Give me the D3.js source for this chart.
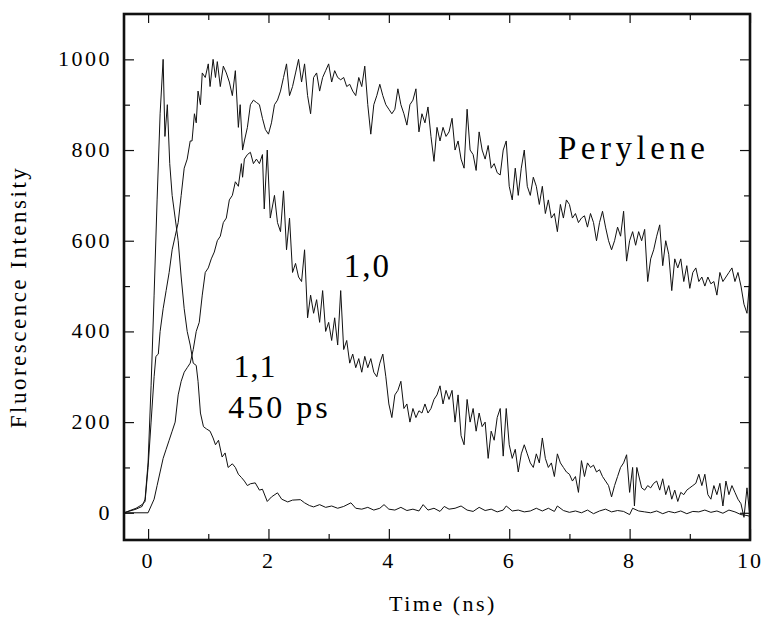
<!DOCTYPE html>
<html>
<head>
<meta charset="utf-8">
<script src="https://cdn.jsdelivr.net/npm/d3@7"></script>
</head>
<body style="margin:0">
<script>
var serif = "'Liberation Serif'";

// data: [time (ns), intensity]
var fastDecay = [ // "1,1", 450 ps
  [-0.4,0],[-0.3,4],[-0.2,8],[-0.1,14],[-0.05,30],[0,110],[0.05,280],[0.1,480],[0.15,690],[0.2,880],
  [0.25,1000],[0.28,830],[0.32,900],[0.36,770],[0.4,700],[0.45,650],[0.5,600],[0.55,520],[0.6,450],
  [0.65,400],[0.7,370],[0.75,330],[0.8,325],[0.83,290],[0.87,220],[0.92,190],[0.97,185],[1.03,180],
  [1.08,165],[1.12,150],[1.17,160],[1.23,123],[1.28,132],[1.33,100],[1.4,108],[1.45,100],[1.5,85],
  [1.55,78],[1.6,70],[1.65,60],[1.7,64],[1.78,66],[1.85,50],[1.9,52],[1.98,25],[2.05,35],[2.15,44],
  [2.22,30],[2.32,24],[2.4,28],[2.53,29],[2.6,22],[2.68,16],[2.75,13],[2.85,18],[2.95,12],[3.05,15],
  [3.15,10],[3.25,14],[3.37,22],[3.45,10],[3.55,8],[3.65,12],[3.75,6],[3.85,10],[3.92,18],[4.0,8],
  [4.1,6],[4.2,12],[4.3,5],[4.4,8],[4.5,4],[4.57,18],[4.65,6],[4.75,10],[4.85,3],[4.92,14],[5.0,8],
  [5.1,10],[5.2,15],[5.3,6],[5.4,3],[5.5,12],[5.6,5],[5.7,8],[5.8,2],[5.9,6],[5.95,15],[6.05,4],
  [6.15,6],[6.25,2],[6.35,4],[6.45,10],[6.55,4],[6.65,10],[6.75,3],[6.8,15],[6.9,5],[7.0,1],[7.1,4],
  [7.2,0],[7.3,6],[7.4,-2],[7.5,4],[7.6,8],[7.7,2],[7.8,5],[7.9,3],[8.0,-4],[8.05,10],[8.15,4],
  [8.25,2],[8.35,0],[8.45,4],[8.55,-2],[8.65,3],[8.75,0],[8.85,4],[8.95,-2],[9.05,3],[9.15,2],
  [9.25,6],[9.35,1],[9.45,4],[9.55,-1],[9.65,6],[9.75,2],[9.85,-4],[9.95,-6],[10,-8]
];

var slowDecay = [ // "1,0"
  [-0.4,0],[-0.2,0],[0,0],[0.05,15],[0.1,30],[0.15,60],[0.2,90],[0.25,120],[0.3,140],[0.35,160],
  [0.4,180],[0.45,200],[0.5,260],[0.55,290],[0.6,310],[0.65,320],[0.7,330],[0.75,360],[0.8,400],
  [0.85,420],[0.9,480],[0.95,530],[1.0,540],[1.05,560],[1.1,575],[1.15,600],[1.2,610],[1.25,640],
  [1.3,650],[1.35,690],[1.4,700],[1.45,730],[1.5,720],[1.55,770],[1.57,740],[1.6,780],[1.65,790],
  [1.7,795],[1.75,770],[1.8,780],[1.85,770],[1.9,790],[1.93,670],[1.98,800],[2.03,650],[2.1,700],
  [2.15,640],[2.2,620],[2.25,710],[2.3,580],[2.35,650],[2.4,530],[2.45,550],[2.5,520],[2.55,510],
  [2.6,580],[2.65,430],[2.7,480],[2.75,440],[2.8,470],[2.85,420],[2.9,490],[2.95,400],[3.0,420],
  [3.05,380],[3.1,430],[3.15,370],[3.2,490],[3.25,360],[3.3,380],[3.35,330],[3.4,350],[3.45,320],
  [3.5,340],[3.55,310],[3.6,345],[3.65,320],[3.7,340],[3.75,310],[3.8,300],[3.85,330],[3.9,350],
  [3.95,300],[4.0,240],[4.05,210],[4.1,260],[4.15,270],[4.2,290],[4.25,230],[4.3,240],[4.35,200],
  [4.4,230],[4.45,210],[4.5,225],[4.55,220],[4.6,240],[4.65,220],[4.7,230],[4.75,250],[4.8,260],
  [4.85,280],[4.9,240],[4.95,270],[5.0,250],[5.05,270],[5.1,200],[5.15,260],[5.2,170],[5.25,150],
  [5.3,250],[5.35,200],[5.4,230],[5.45,180],[5.5,220],[5.55,190],[5.6,200],[5.65,120],[5.7,180],
  [5.75,160],[5.8,210],[5.85,230],[5.9,125],[5.95,230],[6.0,150],[6.05,120],[6.1,140],[6.15,90],
  [6.2,130],[6.25,150],[6.3,130],[6.35,110],[6.4,100],[6.45,130],[6.5,110],[6.55,165],[6.6,120],
  [6.65,100],[6.7,110],[6.75,80],[6.8,130],[6.85,110],[6.9,100],[6.95,90],[7.0,85],[7.05,70],
  [7.1,80],[7.15,45],[7.2,115],[7.25,80],[7.3,110],[7.35,100],[7.4,105],[7.45,90],[7.5,95],
  [7.55,80],[7.6,70],[7.65,60],[7.7,35],[7.75,60],[7.8,80],[7.85,100],[7.9,110],[7.95,128],[8.0,45],
  [8.05,100],[8.08,15],[8.12,100],[8.2,55],[8.25,50],[8.3,60],[8.35,55],[8.4,65],[8.45,70],[8.5,50],
  [8.55,75],[8.6,40],[8.65,60],[8.7,30],[8.75,50],[8.8,25],[8.85,45],[8.9,40],[8.95,50],[9.0,55],
  [9.05,60],[9.1,65],[9.15,85],[9.2,60],[9.25,85],[9.3,40],[9.35,30],[9.4,60],[9.45,40],[9.5,65],
  [9.55,15],[9.6,70],[9.65,40],[9.7,60],[9.75,45],[9.8,30],[9.85,20],[9.9,-10],[9.95,55],[10,-10]
];

var perylene = [
  [-0.4,0],[-0.2,10],[-0.1,18],[-0.05,25],[0,100],[0.05,200],[0.1,300],[0.13,345],[0.17,350],
  [0.2,400],[0.25,450],[0.3,490],[0.35,530],[0.4,580],[0.45,610],[0.5,640],[0.55,700],[0.6,760],
  [0.65,780],[0.7,820],[0.73,820],[0.77,880],[0.8,860],[0.83,930],[0.87,900],[0.9,970],[0.95,960],
  [1.0,990],[1.03,940],[1.08,1000],[1.12,960],[1.15,995],[1.2,940],[1.25,985],[1.3,970],[1.35,950],
  [1.4,920],[1.45,975],[1.5,850],[1.53,900],[1.57,800],[1.6,820],[1.65,850],[1.7,900],[1.75,910],
  [1.8,905],[1.85,900],[1.9,870],[1.95,845],[2.0,835],[2.05,860],[2.1,900],[2.15,910],[2.2,930],
  [2.25,960],[2.3,990],[2.35,920],[2.4,940],[2.45,970],[2.5,1000],[2.55,950],[2.6,990],[2.65,920],
  [2.7,880],[2.75,960],[2.8,970],[2.85,930],[2.9,960],[2.95,975],[3.0,990],[3.05,950],[3.1,975],
  [3.15,960],[3.2,955],[3.25,960],[3.3,940],[3.35,945],[3.4,930],[3.45,920],[3.5,960],[3.55,940],
  [3.6,985],[3.65,900],[3.7,835],[3.75,900],[3.8,920],[3.85,945],[3.9,920],[3.95,900],[4.0,890],
  [4.05,880],[4.1,890],[4.15,935],[4.2,900],[4.25,880],[4.3,855],[4.35,900],[4.4,910],[4.45,935],
  [4.5,840],[4.55,880],[4.6,860],[4.65,895],[4.7,830],[4.75,775],[4.8,850],[4.85,820],[4.9,850],
  [4.95,830],[5.0,840],[5.05,870],[5.1,800],[5.15,820],[5.2,780],[5.25,760],[5.3,890],[5.35,800],
  [5.4,790],[5.45,755],[5.5,840],[5.55,800],[5.6,780],[5.65,810],[5.7,760],[5.75,770],[5.8,750],
  [5.85,745],[5.9,800],[5.95,820],[6.0,720],[6.05,690],[6.1,760],[6.15,700],[6.2,760],[6.25,800],
  [6.3,720],[6.35,700],[6.4,740],[6.45,720],[6.5,680],[6.55,720],[6.6,660],[6.65,690],[6.7,650],
  [6.75,660],[6.8,620],[6.85,680],[6.9,650],[6.95,690],[7.0,680],[7.05,650],[7.1,660],[7.15,640],
  [7.2,650],[7.25,655],[7.3,630],[7.35,660],[7.4,640],[7.45,600],[7.5,640],[7.55,665],[7.6,630],
  [7.65,600],[7.7,580],[7.75,600],[7.8,630],[7.85,610],[7.9,665],[7.95,555],[8.0,600],[8.05,620],
  [8.1,590],[8.15,620],[8.2,600],[8.25,625],[8.3,510],[8.35,560],[8.4,580],[8.45,610],[8.5,635],
  [8.55,545],[8.6,600],[8.65,570],[8.7,490],[8.75,560],[8.8,540],[8.85,560],[8.9,510],[8.95,545],
  [9.0,495],[9.05,530],[9.1,540],[9.15,510],[9.2,520],[9.25,500],[9.3,520],[9.35,505],[9.4,510],
  [9.45,480],[9.5,530],[9.55,510],[9.6,520],[9.65,530],[9.7,540],[9.75,510],[9.8,530],[9.85,500],
  [9.9,460],[9.95,440],[10,520]
];

var xMajor = [0, 2, 4, 6, 8, 10];
var xMinor = [1, 3, 5, 7, 9];
var yMajor = [0, 200, 400, 600, 800, 1000];
var yMinor = [100, 300, 500, 700, 900];

var labels = [
  {text: "Perylene", t: 6.81, v: 780, size: 33, gap: 4.5},
  {text: "1,0", t: 3.25, v: 520, size: 33, gap: 2},
  {text: "1,1", t: 1.42, v: 300, size: 32, gap: 1},
  {text: "450 ps", t: 1.33, v: 210, size: 32, gap: 3}
];

var margin = {top: 14, right: 12, bottom: 77, left: 124},
    width = 762 - margin.left - margin.right,
    height = 617 - margin.top - margin.bottom;

var root = d3.select("body").append("svg")
    .attr("width", 762)
    .attr("height", 617);

var svg = root.append("g")
    .attr("transform", "translate(" + margin.left + "," + margin.top + ")");

var x = d3.scaleLinear().domain([-0.4, 10]).range([0, width]);
var y = d3.scaleLinear().domain([-60, 1100]).range([height, 0]);

// ticks point inwards on all four sides; labels are drawn separately below
function styleAxis(g) {
  g.select(".domain").remove();
  g.selectAll(".tick line").attr("stroke", "#111").attr("stroke-width", 1.2);
}

svg.append("g")
    .attr("transform", "translate(0," + height + ")")
    .call(d3.axisBottom(x).tickValues(xMajor).tickSize(-11).tickFormat(""))
    .call(styleAxis);
svg.append("g")
    .attr("transform", "translate(0," + height + ")")
    .call(d3.axisBottom(x).tickValues(xMinor).tickSize(-6).tickFormat(""))
    .call(styleAxis);
svg.append("g")
    .call(d3.axisTop(x).tickValues(xMajor).tickSize(-9).tickFormat(""))
    .call(styleAxis);
svg.append("g")
    .call(d3.axisTop(x).tickValues(xMinor).tickSize(-6).tickFormat(""))
    .call(styleAxis);
svg.append("g")
    .call(d3.axisLeft(y).tickValues(yMajor).tickSize(-10).tickFormat(""))
    .call(styleAxis);
svg.append("g")
    .call(d3.axisLeft(y).tickValues(yMinor).tickSize(-6).tickFormat(""))
    .call(styleAxis);
svg.append("g")
    .attr("transform", "translate(" + width + ",0)")
    .call(d3.axisRight(y).tickValues(yMajor).tickSize(-10).tickFormat(""))
    .call(styleAxis);
svg.append("g")
    .attr("transform", "translate(" + width + ",0)")
    .call(d3.axisRight(y).tickValues(yMinor).tickSize(-6).tickFormat(""))
    .call(styleAxis);

// frame
svg.append("rect")
    .attr("width", width)
    .attr("height", height)
    .attr("fill", "none")
    .attr("stroke", "#111")
    .attr("stroke-width", 2.6);

var line = d3.line()
    .x(function(d) { return x(d[0]); })
    .y(function(d) { return y(d[1]); });

[fastDecay, slowDecay, perylene].forEach(function(s) {
  svg.append("path")
      .datum(s)
      .attr("fill", "none")
      .attr("stroke", "#111")
      .attr("stroke-width", 1)
      .attr("stroke-linejoin", "round")
      .attr("d", line);
});

// all texts go straight on the svg root, positioned through the scales
root.selectAll(".xlab")
  .data(xMajor)
  .enter().append("text")
    .attr("class", "xlab")
    .attr("x", function(d) { return margin.left + x(d); })
    .attr("y", margin.top + height + 28)
    .attr("text-anchor", "middle")
    .style("font-family", serif)
    .style("font-size", "22px")
    .style("letter-spacing", "2px")
    .text(function(d) { return d; });

root.selectAll(".ylab")
  .data(yMajor)
  .enter().append("text")
    .attr("class", "ylab")
    .attr("x", margin.left - 12)
    .attr("y", function(d) { return margin.top + y(d) + 7; })
    .attr("text-anchor", "end")
    .style("font-family", serif)
    .style("font-size", "22px")
    .style("letter-spacing", "2.5px")
    .text(function(d) { return d; });

root.selectAll(".note")
  .data(labels)
  .enter().append("text")
    .attr("class", "note")
    .attr("x", function(d) { return margin.left + x(d.t); })
    .attr("y", function(d) { return margin.top + y(d.v); })
    .style("font-family", serif)
    .style("font-size", function(d) { return d.size + "px"; })
    .style("letter-spacing", function(d) { return d.gap + "px"; })
    .text(function(d) { return d.text; });

root.append("text")
    .attr("x", margin.left + width / 2 + 6)
    .attr("y", 611)
    .attr("text-anchor", "middle")
    .style("font-family", serif)
    .style("font-size", "22px")
    .style("letter-spacing", "2.5px")
    .text("Time (ns)");

root.append("text")
    .attr("transform", "translate(26," + (margin.top + height / 2 + 20) + ") rotate(-90)")
    .attr("text-anchor", "middle")
    .style("font-family", serif)
    .style("font-size", "23px")
    .style("letter-spacing", "2.5px")
    .text("Fluorescence Intensity");
</script>
</body>
</html>
